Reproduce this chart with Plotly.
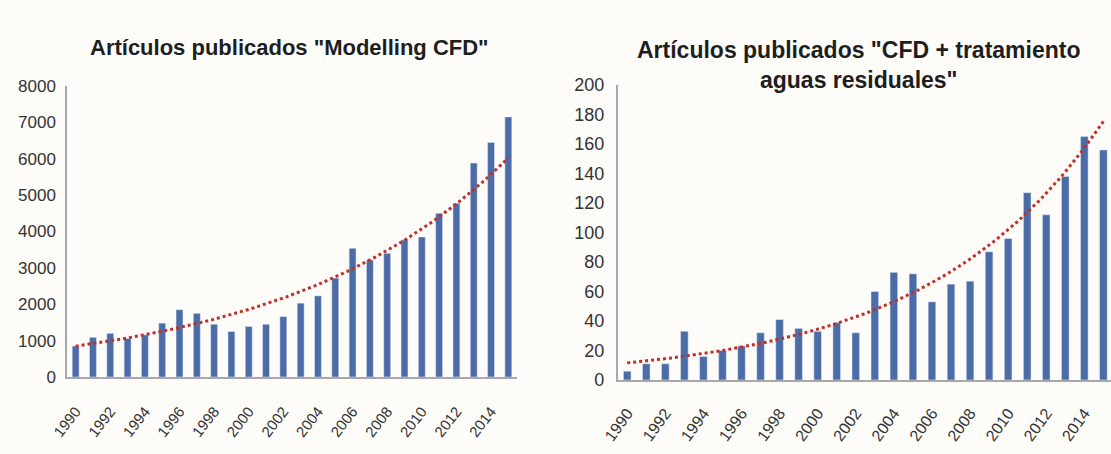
import numpy as np
import plotly.graph_objects as go

# Publication counts per year
years = list(range(1990, 2016))
modelling_cfd = [850, 1090, 1200, 1060, 1160, 1480, 1850, 1750, 1450, 1250,
                 1390, 1450, 1660, 2030, 2230, 2720, 3540, 3220, 3400, 3770,
                 3850, 4500, 4780, 5880, 6450, 7150]
cfd_aguas = [6, 11, 11, 33, 16, 20, 23, 32, 41, 35,
             33, 39, 32, 60, 73, 72, 53, 65, 67, 87,
             96, 127, 112, 138, 165, 156]

tick_years = list(range(1990, 2015, 2))
tick_text = [str(y) for y in tick_years]

title_left = 'Artículos publicados "Modelling CFD"'
title_right = 'Artículos publicados "CFD + tratamiento<br>aguas residuales"'

BAR = "#4c6ca8"
TREND = "#c0302a"
BG = "#fdfcf9"
TXT = "#333333"
FONT = "Liberation Sans, Arial, sans-serif"


def exp_trend(x, y, n=200):
    """Exponential least-squares trend (fit of ln y on x)."""
    x = np.asarray(x, dtype=float)
    b, ln_a = np.polyfit(x - x[0], np.log(np.asarray(y, dtype=float)), 1)
    xs = np.linspace(x[0], x[-1], n)
    return xs, np.exp(ln_a) * np.exp(b * (xs - x[0]))


fig = go.Figure()

fig.add_trace(go.Bar(x=years, y=modelling_cfd, width=0.4, marker_color=BAR,
                     xaxis="x", yaxis="y", showlegend=False))
tx, ty = exp_trend(years, modelling_cfd)
fig.add_trace(go.Scatter(x=tx, y=ty, mode="lines", xaxis="x", yaxis="y",
                         line=dict(color=TREND, width=3, dash="3px,3px"),
                         showlegend=False))

fig.add_trace(go.Bar(x=years, y=cfd_aguas, width=0.4, marker_color=BAR,
                     xaxis="x2", yaxis="y2", showlegend=False))
tx2, ty2 = exp_trend(years, cfd_aguas)
fig.add_trace(go.Scatter(x=tx2, y=ty2, mode="lines", xaxis="x2", yaxis="y2",
                         line=dict(color=TREND, width=3, dash="3px,3px"),
                         showlegend=False))

W, H = 1111, 454


def px_x(p):
    return p / W


def px_y(p):
    return 1 - p / H


axis_common = dict(showgrid=False, zeroline=False, showline=True,
                   linecolor="#a8a8a8", linewidth=1.5, ticks="",
                   automargin=False)

fig.update_layout(
    width=W, height=H,
    margin=dict(l=0, r=0, t=0, b=0, autoexpand=False),
    paper_bgcolor=BG, plot_bgcolor=BG,
    bargap=0.6,
    xaxis=dict(domain=[px_x(67), px_x(517)], range=[1989.5, 2015.5],
               tickmode="array", tickvals=tick_years, ticktext=tick_text,
               tickangle=-52, anchor="y", ticklabelstandoff=18,
               tickfont=dict(family=FONT, size=15, color=TXT), **axis_common),
    yaxis=dict(domain=[px_y(377), px_y(86)], range=[0, 8000],
               tickmode="linear", dtick=1000, tick0=0, anchor="x",
               ticklabelstandoff=6,
               tickfont=dict(family=FONT, size=17, color=TXT), **axis_common),
    xaxis2=dict(domain=[px_x(617.7), 1.0], range=[1989.5, 2015.4],
                tickmode="array", tickvals=tick_years, ticktext=tick_text,
                tickangle=-54, anchor="y2", ticklabelstandoff=16,
                tickfont=dict(family=FONT, size=16, color=TXT), **axis_common),
    yaxis2=dict(domain=[px_y(380), px_y(85)], range=[0, 200],
                tickmode="linear", dtick=20, tick0=0, anchor="x2",
                ticklabelstandoff=8,
                tickfont=dict(family=FONT, size=18, color=TXT), **axis_common),
    annotations=[
        dict(text="<b>" + title_left + "</b>", x=px_x(289), y=px_y(47),
             xref="paper", yref="paper", xanchor="center", yanchor="middle",
             showarrow=False, font=dict(family=FONT, size=22, color="#1e1e1e")),
        dict(text="<b>" + title_right + "</b>", x=px_x(859), y=px_y(65),
             xref="paper", yref="paper", xanchor="center", yanchor="middle",
             showarrow=False, font=dict(family=FONT, size=23, color="#1e1e1e")),
    ],
)

fig.write_html("out.html")
